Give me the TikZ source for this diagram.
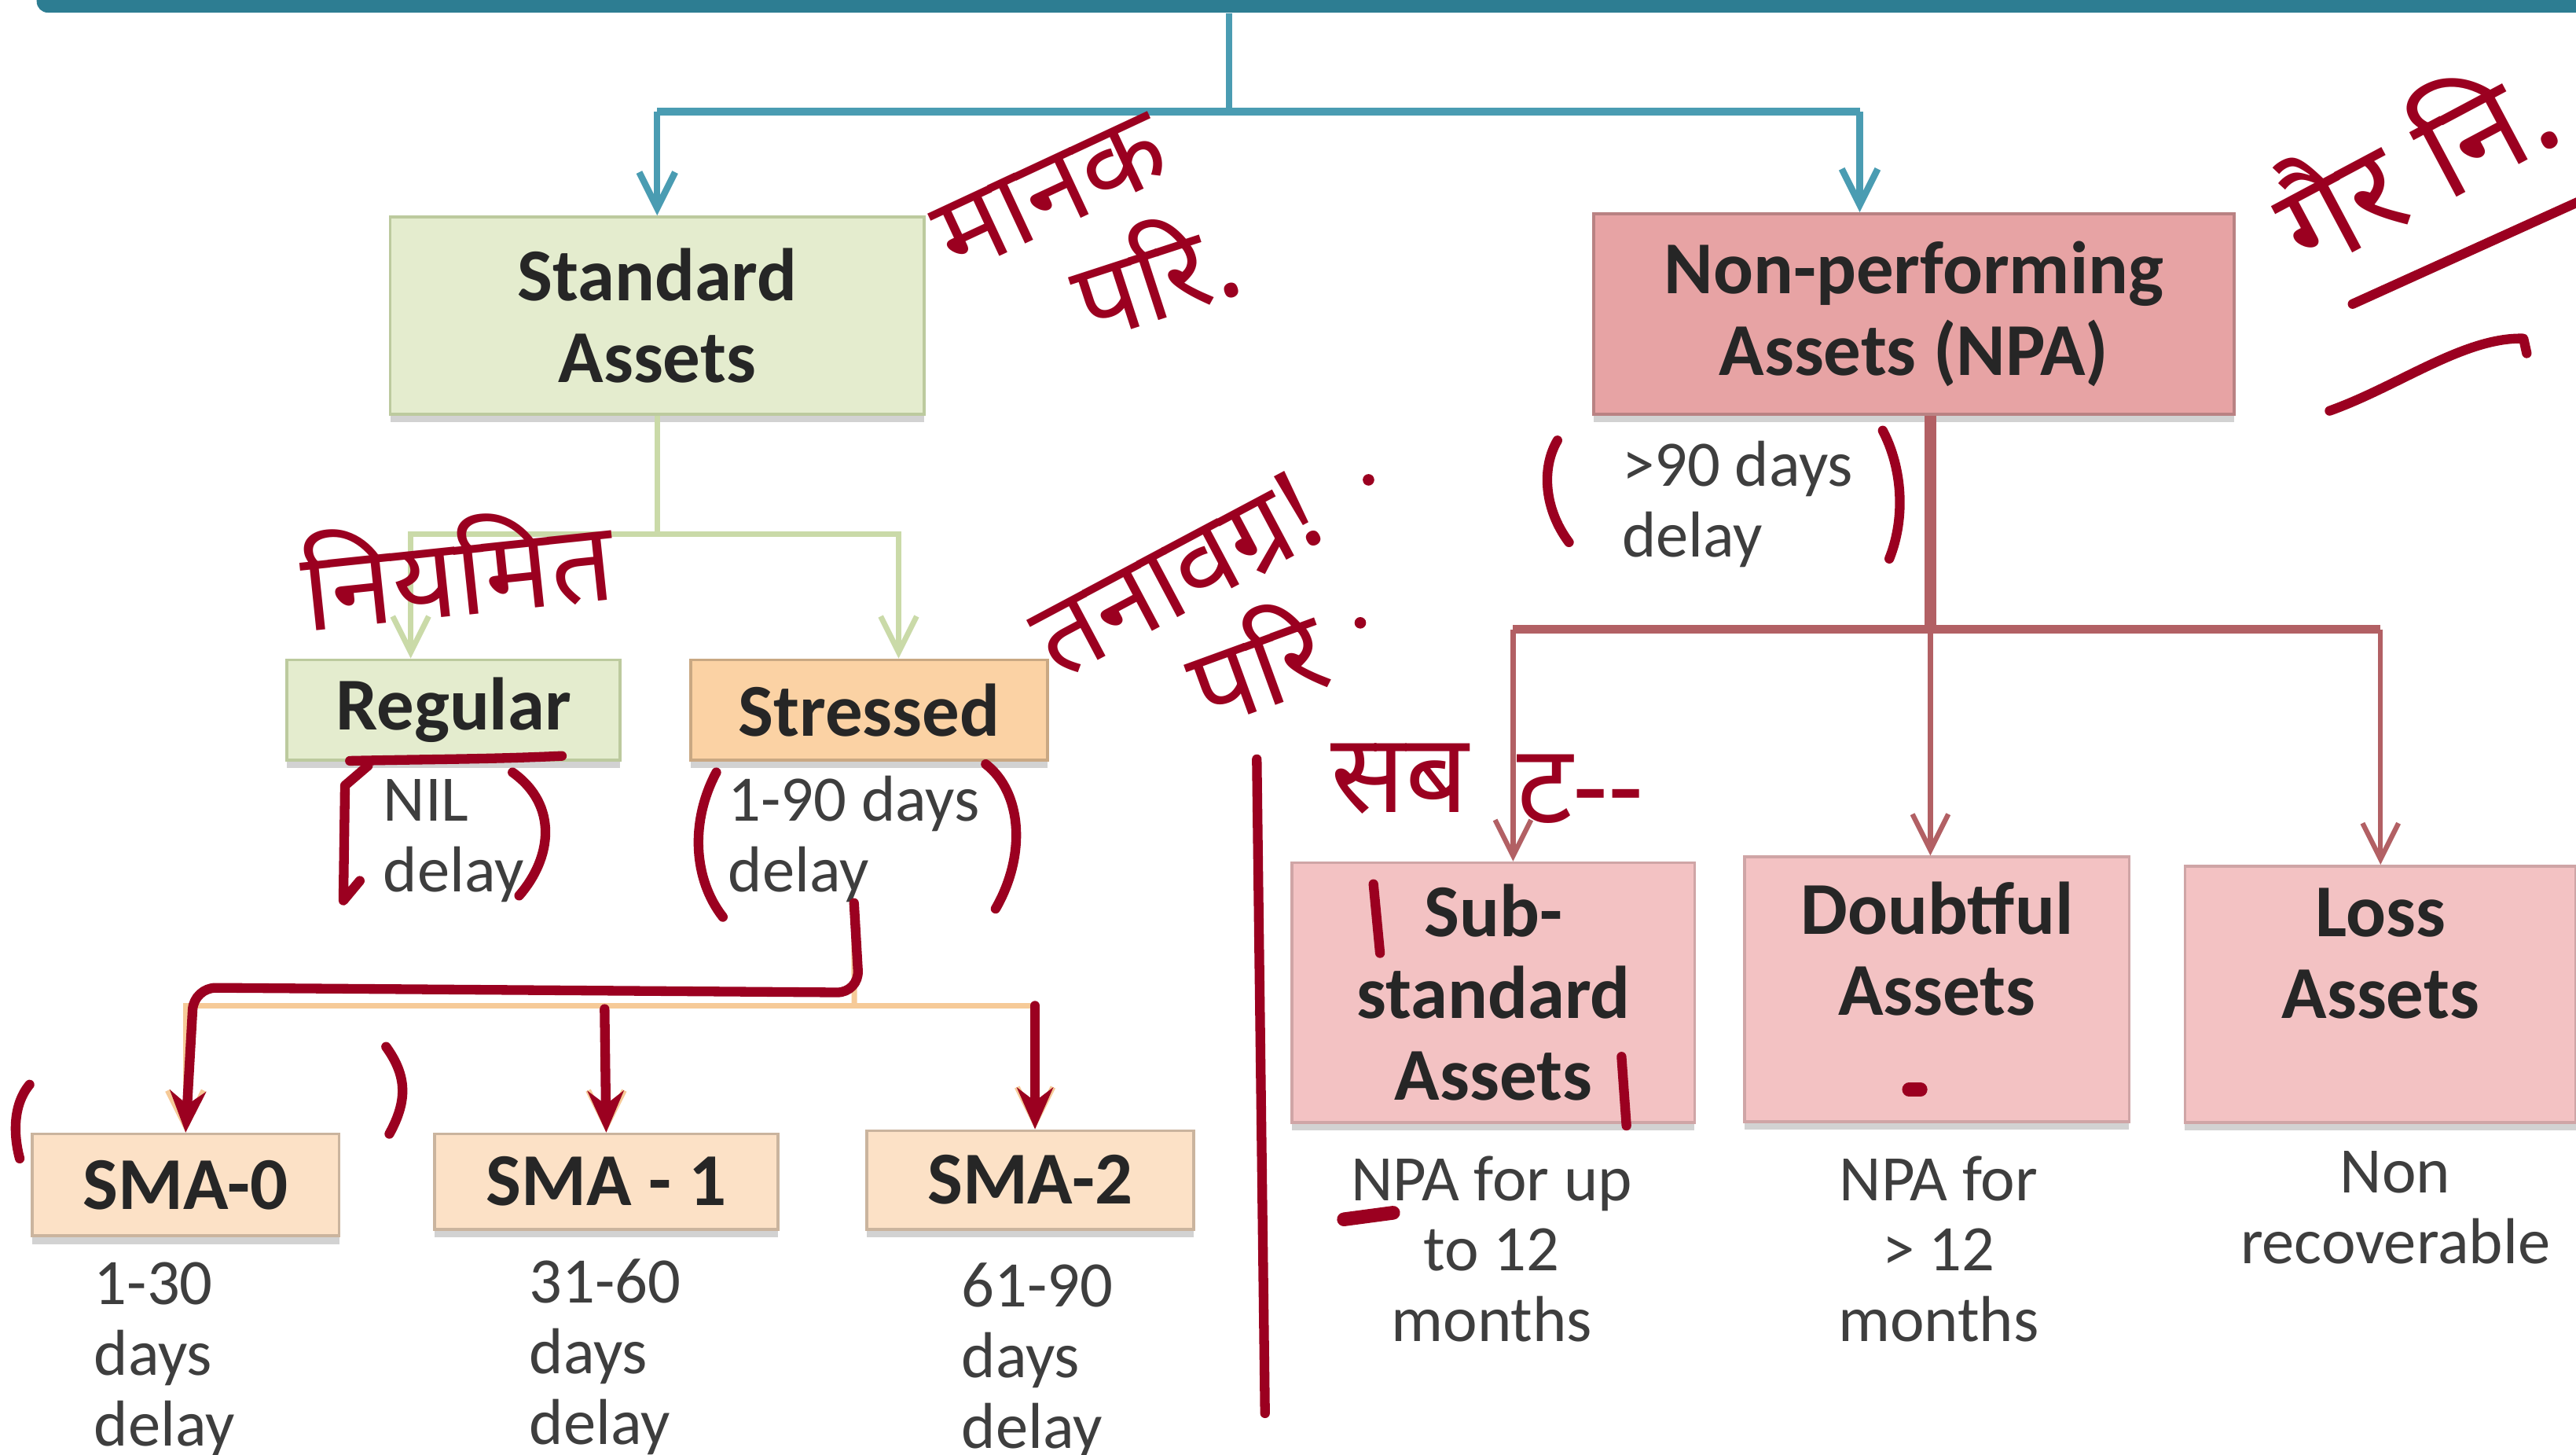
\documentclass[tikz,border=0pt]{standalone}
\usepackage{fontspec}
\setmainfont{Carlito}
\newfontfamily\hindi[Script=Devanagari]{Noto Sans}
\usetikzlibrary{arrows.meta,shapes,positioning,shadows}

\definecolor{topteal}{RGB}{45,125,146}
\definecolor{tealln}{RGB}{74,156,178}
\definecolor{stdfill}{RGB}{228,236,206}
\definecolor{stdline}{RGB}{188,202,158}
\definecolor{grnline}{RGB}{202,218,168}
\definecolor{strfill}{RGB}{251,210,164}
\definecolor{smafill}{RGB}{252,225,198}
\definecolor{oraline}{RGB}{246,202,152}
\definecolor{npafill}{RGB}{231,163,164}
\definecolor{subfill}{RGB}{243,194,195}
\definecolor{npaline}{RGB}{178,96,100}
\definecolor{ink}{RGB}{155,0,32}
\definecolor{txtgray}{RGB}{62,62,62}

\newlength\pxl
\setlength\pxl{0.020906cm}

\tikzset{
  box/.style={draw, rectangle, align=center, line width=1pt, inner sep=0pt,
    font=\fontsize{27}{29.5}\selectfont\bfseries, text=black!85,
    drop shadow={shadow xshift=0pt, shadow yshift=-3pt, opacity=0.35}},
  stdbox/.style={box, fill=stdfill, draw=stdline},
  strbox/.style={box, fill=strfill, draw=strfill!80!black},
  smabox/.style={box, fill=smafill, draw=smafill!80!black},
  npabox/.style={box, fill=npafill, draw=npafill!80!black},
  subbox/.style={box, fill=subfill, draw=subfill!85!black},
  note/.style={inner sep=0pt, font=\fontsize{23.5}{25.6}\selectfont, text=txtgray},
  tip/.style={-{Straight Barb[length=13pt,width=13pt]}},
  inkline/.style={draw=ink, line width=3.5pt, line cap=round, line join=round},
  inktip/.style={-{Stealth[length=15pt,width=13pt]}},
  handw/.style={text=ink, inner sep=0pt, font=\hindi\bfseries\fontsize{40}{40}\selectfont},
}

\begin{document}
\begin{tikzpicture}[x=0.020906cm, y=-0.020906cm]
\fill[white] (0,0) rectangle (1568,885);
\useasboundingbox (0,0) rectangle (1568,885);

% top bar
\node[fill=topteal, rounded corners=4pt, minimum width=1580\pxl, minimum height=18\pxl, inner sep=0pt, anchor=south west] (bar) at (22,8) {};

% boxes
\node[stdbox, minimum width=325\pxl, minimum height=120\pxl] (std) at (400,192) {Standard\\Assets};
\node[npabox, minimum width=390\pxl, minimum height=122\pxl] (npa) at (1165,191) {Non-performing\\Assets (NPA)};
\node[stdbox, minimum width=203\pxl, minimum height=61\pxl] (reg) at (276,432) {Regular};
\node[strbox, minimum width=217\pxl, minimum height=61\pxl] (str) at (529,432) {Stressed};
\node[smabox, minimum width=187\pxl, minimum height=62\pxl] (sma0) at (113,721) {SMA-0};
\node[smabox, minimum width=209\pxl, minimum height=58\pxl] (sma1) at (369,719) {SMA - 1};
\node[smabox, minimum width=199\pxl, minimum height=60\pxl] (sma2) at (627,718) {SMA-2};
\node[subbox, minimum width=245\pxl, minimum height=158\pxl] (sub) at (909,604) {Sub-\\standard\\Assets};
\node[subbox, minimum width=234\pxl, minimum height=161\pxl] (dbt) at (1179,602) {Doubtful\\Assets\\\phantom{A}};
\node[subbox, minimum width=238\pxl, minimum height=156\pxl] (loss) at (1449,605) {Loss\\Assets\\\phantom{A}};

% notes
\node[note, align=left, anchor=north west] (regtxt) at (233,474) {NIL\\delay};
\node[note, align=left, anchor=north west] (strtxt) at (443,472) {1-90 days\\delay};
\node[note, align=left, anchor=north west] (npatxt) at (987,268) {>90 days\\delay};
\node[note, align=left, anchor=north west] (sma0txt) at (57,768) {1-30\\days\\delay};
\node[note, align=left, anchor=north west] (sma1txt) at (322,766) {31-60\\days\\delay};
\node[note, align=left, anchor=north west] (sma2txt) at (585,768) {61-90\\days\\delay};
\node[note, align=center, anchor=north] (subtxt) at (908,703) {NPA for up\\to 12\\months};
\node[note, align=center, anchor=north] (dbttxt) at (1180,703) {NPA for\\> 12\\months};
\node[note, align=center, anchor=north] (losstxt) at (1458,700) {Non\\recoverable};

% teal connectors
\coordinate (tsplit) at (748,68);
\draw[tealln, line width=2.4pt] (bar.south -| tsplit) -- (tsplit);
\draw[tealln, line width=3pt] (std.north |- tsplit) -- ([xshift=-33\pxl]npa.north |- tsplit);
\draw[tealln, line width=2.4pt, tip] (std.north |- tsplit) -- (std.north);
\draw[tealln, line width=2.4pt, tip] ([xshift=-33\pxl]npa.north |- tsplit) -- ([xshift=-33\pxl]npa.north);

% green connectors
\coordinate (gsplit) at (400,325);
\draw[grnline, line width=2pt] (std.south) -- (gsplit);
\draw[grnline, line width=2pt, tip] (gsplit) -| ([xshift=-26\pxl]reg.north);
\draw[grnline, line width=2pt, tip] (gsplit) -| ([xshift=18\pxl]str.north);

% orange connectors
\coordinate (osplit) at (520,612);
\draw[oraline, line width=2pt] (strtxt.south) -- (osplit);
\draw[oraline, line width=2pt, tip] (osplit) -| (sma0.north);
\draw[oraline, line width=2pt, tip] (osplit) -| (sma1.north);
\draw[oraline, line width=2pt, tip] (osplit) -| ([xshift=3\pxl]sma2.north);

% npa connectors
\coordinate (nsplit) at (1175,383);
\draw[npaline, line width=4.5pt] ([xshift=10\pxl]npa.south) -- (nsplit);
\draw[npaline, line width=3pt] ([xshift=12\pxl]sub.north |- nsplit) -- (loss.north |- nsplit);
\draw[npaline, line width=1.8pt, tip] ([xshift=12\pxl]sub.north |- nsplit) -- ([xshift=12\pxl]sub.north);
\draw[npaline, line width=1.8pt, tip] (nsplit) -- ([xshift=-4\pxl]dbt.north);
\draw[npaline, line width=1.8pt, tip] (loss.north |- nsplit) -- (loss.north);

% ink notes
\node[handw, rotate=25] (hwstd) at (640,118) {मानक};
\node[handw, rotate=18] (hwstd2) at (702,165) {परि.};
\node[handw, rotate=6] (hwreg) at (278,345) {नियमित};
\node[handw, rotate=28] (hwstr) at (716,350) {तनावग्र!};
\node[handw, rotate=20] (hwstr2) at (764,402) {परि};
\node[handw, rotate=28, font=\hindi\bfseries\fontsize{46}{46}\selectfont] (hwnpa) at (1468,96) {गैर नि.};
\node[handw] (hwsub) at (852,474) {सब};
\node[handw] (hwsub2) at (962,480) {ट--};
\fill[ink] (833,292) circle (3.5) (828,379) circle (3.5);

% ink marks
\draw[inkline] (213,463) .. controls (260,462) and (300,462) .. (342,460);
\draw[inkline] (224,466) -- (210,478) -- (209,548) -- (219,536);
\draw[inkline] (312,470) .. controls (340,490) and (336,522) .. (316,545);
\draw[inkline] (436,470) .. controls (420,500) and (422,535) .. (440,558);
\draw[inkline] (600,465) .. controls (622,482) and (625,520) .. (606,553);
\draw[inkline, inktip, rounded corners=8pt] (strtxt.south) -- (523,604) -- (118,601) -- (sma0.north);
\draw[inkline, inktip] (368,614) -- (sma1.north);
\draw[inkline, inktip] (630,612) -- ([xshift=3\pxl]sma2.north);
\draw[inkline] (18,660) .. controls (8,672) and (8,690) .. (12,705);
\draw[inkline] (235,637) .. controls (248,655) and (248,670) .. (237,690);
\draw[inkline] (765,462) -- (770,860);
\draw[inkline] (948,268) .. controls (938,285) and (940,310) .. (955,330);
\draw[inkline] (1146,262) .. controls (1158,285) and (1160,315) .. (1150,340);
\draw[inkline] (836,538) -- (840,580);
\draw[inkline] (987,643) -- (990,685);
\draw[inkline, line width=5pt] (818,742) -- (848,738);
\draw[inkline, line width=5pt] (1162,663) -- (1169,663);
\draw[inkline] (1432,185) -- (1580,118);
\draw[inkline] (1418,250) .. controls (1460,235) and (1500,205) .. (1536,206) -- (1538,215);
\end{tikzpicture}
\end{document}
